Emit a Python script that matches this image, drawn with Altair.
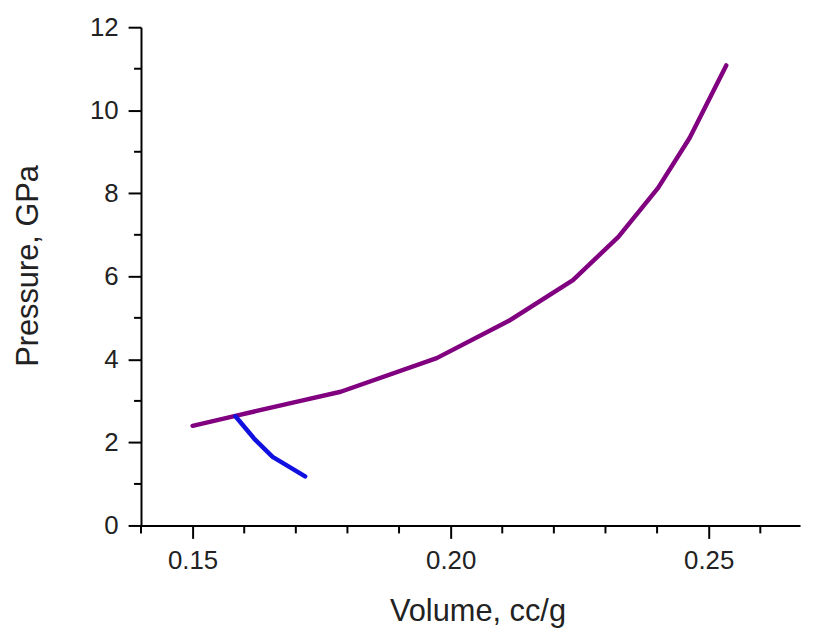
import altair as alt
import pandas as pd

# Purple curve (main isotherm)
purple_v = [0.1500, 0.1583, 0.1705, 0.1787, 0.1973, 0.2113, 0.2237, 0.2325, 0.2402, 0.2463, 0.2534]
purple_p = [2.40, 2.64, 2.99, 3.22, 4.03, 4.93, 5.91, 6.95, 8.13, 9.33, 11.08]

# Blue branch
blue_v = [0.1583, 0.1620, 0.1655, 0.1718]
blue_p = [2.63, 2.08, 1.65, 1.18]

x_major = [0.15, 0.20, 0.25]
x_minor = [0.14, 0.16, 0.17, 0.18, 0.19, 0.21, 0.22, 0.23, 0.24, 0.26]
y_major = [0, 2, 4, 6, 8, 10, 12]
y_minor = [1, 3, 5, 7, 9, 11]

df = pd.DataFrame(
    {
        "Volume": purple_v + blue_v,
        "Pressure": purple_p + blue_p,
        "series": ["purple"] * len(purple_v) + ["blue"] * len(blue_v),
        "idx": list(range(len(purple_v))) + list(range(len(blue_v))),
    }
)

FONT = "Liberation Sans"
W, H = 664, 502

x_scale = alt.Scale(domain=[0.14, 0.2677], nice=False, zero=False)
y_scale = alt.Scale(domain=[0, 12], nice=False, zero=False)

x_axis = alt.Axis(
    values=x_major,
    format=".2f",
    title="Volume, cc/g",
    grid=False,
    tickSize=13,
    tickWidth=2,
    domainWidth=2,
    domainColor="black",
    tickColor="black",
    labelFont=FONT,
    labelFontSize=26,
    labelColor="#222",
    labelPadding=9,
    titleFont=FONT,
    titleFontSize=31,
    titleFontWeight="normal",
    titleColor="#222",
    titleY=72,
    titleX=339,
    titleBaseline="top",
)
y_axis = alt.Axis(
    values=y_major,
    format="d",
    title="Pressure, GPa",
    grid=False,
    tickSize=13,
    tickWidth=2,
    domainWidth=2,
    domainColor="black",
    tickColor="black",
    labelFont=FONT,
    labelFontSize=26,
    labelColor="#222",
    labelPadding=10,
    titleFont=FONT,
    titleFontSize=31,
    titleFontWeight="normal",
    titleColor="#222",
    titleX=-97,
    titleY=240,
)

lines = (
    alt.Chart(df)
    .mark_line(strokeWidth=4.5, strokeCap="round", strokeJoin="round", clip=False)
    .encode(
        x=alt.X("Volume:Q", scale=x_scale, axis=x_axis),
        y=alt.Y("Pressure:Q", scale=y_scale, axis=y_axis),
        color=alt.Color(
            "series:N",
            scale=alt.Scale(domain=["purple", "blue"], range=["#800080", "#1010e0"]),
            legend=None,
        ),
        detail="series:N",
        order="idx:Q",
    )
)

xminor_df = pd.DataFrame({"Volume": x_minor})
yminor_df = pd.DataFrame({"Pressure": y_minor})

xminor = (
    alt.Chart(xminor_df)
    .mark_rule(strokeWidth=2, color="black")
    .encode(
        x=alt.X("Volume:Q", scale=x_scale, axis=x_axis),
        y=alt.value(H),
        y2=alt.value(H + 8),
    )
)
yminor = (
    alt.Chart(yminor_df)
    .mark_rule(strokeWidth=2, color="black")
    .encode(
        y=alt.Y("Pressure:Q", scale=y_scale, axis=y_axis),
        x=alt.value(0),
        x2=alt.value(-7),
    )
)

chart = (
    alt.layer(lines, xminor, yminor)
    .properties(
        width=W,
        height=H,
        autosize=alt.AutoSizeParams(type="none"),
        padding={"left": 134, "top": 17, "right": 5, "bottom": 105},
        background="white",
    )
    .configure_view(stroke=None)
)

chart.save("out.html", embed_options={"renderer": "svg", "actions": False})
